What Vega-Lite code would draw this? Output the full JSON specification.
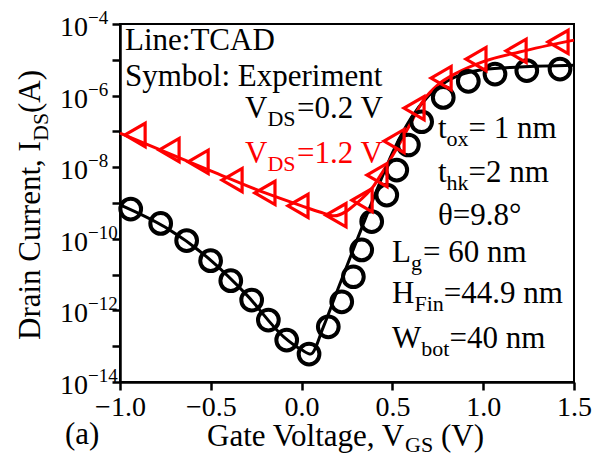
{
  "$schema": "https://vega.github.io/schema/vega-lite/v6.json",
  "width": 454,
  "height": 358,
  "autosize": "none",
  "padding": {"left": 120, "top": 24, "right": 32, "bottom": 76},
  "background": "white",
  "config": {
    "view": {"stroke": "#000000", "strokeWidth": 2},
    "font": "Liberation Serif",
    "text": {"font": "Liberation Serif"},
    "axis": {
      "domainColor": "#000000", "domainWidth": 2.5,
      "tickColor": "#000000", "tickWidth": 2.5, "tickSize": 8,
      "labelColor": "#000000", "labelFont": "Liberation Serif", "labelFontSize": 28,
      "labelFlush": false, "labelOverlap": false, "labelBound": false,
      "grid": false, "title": null
    }
  },
  "datasets": {
    "tcad": [
      {"series": "0.2 V", "v": -1.0, "I": 8.91e-10},
      {"series": "0.2 V", "v": -0.75, "I": 2.09e-10},
      {"series": "0.2 V", "v": -0.5, "I": 2.51e-11},
      {"series": "0.2 V", "v": -0.3, "I": 2.63e-12},
      {"series": "0.2 V", "v": -0.1, "I": 1.86e-13},
      {"series": "0.2 V", "v": 0.0, "I": 7.94e-14},
      {"series": "0.2 V", "v": 0.05, "I": 6.03e-14},
      {"series": "0.2 V", "v": 0.12, "I": 3.47e-13},
      {"series": "0.2 V", "v": 0.2, "I": 3.98e-12},
      {"series": "0.2 V", "v": 0.3, "I": 7.94e-11},
      {"series": "0.2 V", "v": 0.414, "I": 2.29e-9},
      {"series": "0.2 V", "v": 0.5, "I": 2.51e-8},
      {"series": "0.2 V", "v": 0.6, "I": 2.24e-7},
      {"series": "0.2 V", "v": 0.7, "I": 1.0e-6},
      {"series": "0.2 V", "v": 0.8, "I": 2.51e-6},
      {"series": "0.2 V", "v": 0.9, "I": 4.17e-6},
      {"series": "0.2 V", "v": 1.0, "I": 5.37e-6},
      {"series": "0.2 V", "v": 1.2, "I": 6.31e-6},
      {"series": "0.2 V", "v": 1.5, "I": 7.08e-6},
      {"series": "1.2 V", "v": -1.0, "I": 8.91e-8},
      {"series": "1.2 V", "v": -0.5, "I": 7.94e-9},
      {"series": "1.2 V", "v": -0.2, "I": 1.91e-9},
      {"series": "1.2 V", "v": 0.0, "I": 8.32e-10},
      {"series": "1.2 V", "v": 0.1, "I": 5.62e-10},
      {"series": "1.2 V", "v": 0.18, "I": 4.37e-10},
      {"series": "1.2 V", "v": 0.25, "I": 6.03e-10},
      {"series": "1.2 V", "v": 0.3, "I": 9.55e-10},
      {"series": "1.2 V", "v": 0.393, "I": 2.82e-9},
      {"series": "1.2 V", "v": 0.45, "I": 7.94e-9},
      {"series": "1.2 V", "v": 0.542, "I": 4.79e-8},
      {"series": "1.2 V", "v": 0.6, "I": 1.66e-7},
      {"series": "1.2 V", "v": 0.668, "I": 7.08e-7},
      {"series": "1.2 V", "v": 0.75, "I": 2.0e-6},
      {"series": "1.2 V", "v": 0.85, "I": 4.17e-6},
      {"series": "1.2 V", "v": 1.0, "I": 8.91e-6},
      {"series": "1.2 V", "v": 1.2, "I": 1.66e-5},
      {"series": "1.2 V", "v": 1.5, "I": 3.55e-5}
    ],
    "exp": [
      {"series": "0.2 V", "v": -0.941, "I": 6.76e-10},
      {"series": "0.2 V", "v": -0.776, "I": 2.69e-10},
      {"series": "0.2 V", "v": -0.633, "I": 8.91e-11},
      {"series": "0.2 V", "v": -0.501, "I": 2.45e-11},
      {"series": "0.2 V", "v": -0.39, "I": 6.76e-12},
      {"series": "0.2 V", "v": -0.275, "I": 1.95e-12},
      {"series": "0.2 V", "v": -0.183, "I": 5.37e-13},
      {"series": "0.2 V", "v": -0.082, "I": 1.48e-13},
      {"series": "0.2 V", "v": 0.041, "I": 6.03e-14},
      {"series": "0.2 V", "v": 0.147, "I": 3.47e-13},
      {"series": "0.2 V", "v": 0.221, "I": 1.74e-12},
      {"series": "0.2 V", "v": 0.285, "I": 8.71e-12},
      {"series": "0.2 V", "v": 0.331, "I": 4.9e-11},
      {"series": "0.2 V", "v": 0.386, "I": 3.02e-10},
      {"series": "0.2 V", "v": 0.469, "I": 1.66e-9},
      {"series": "0.2 V", "v": 0.524, "I": 8.32e-9},
      {"series": "0.2 V", "v": 0.588, "I": 4.17e-8},
      {"series": "0.2 V", "v": 0.661, "I": 1.86e-7},
      {"series": "0.2 V", "v": 0.78, "I": 8.91e-7},
      {"series": "0.2 V", "v": 0.918, "I": 2.51e-6},
      {"series": "0.2 V", "v": 1.065, "I": 3.98e-6},
      {"series": "0.2 V", "v": 1.24, "I": 5.01e-6},
      {"series": "0.2 V", "v": 1.423, "I": 5.5e-6},
      {"series": "1.2 V", "v": -0.917, "I": 7.94e-8},
      {"series": "1.2 V", "v": -0.73, "I": 3.02e-8},
      {"series": "1.2 V", "v": -0.57, "I": 1.41e-8},
      {"series": "1.2 V", "v": -0.383, "I": 4.37e-9},
      {"series": "1.2 V", "v": -0.202, "I": 1.91e-9},
      {"series": "1.2 V", "v": -0.02, "I": 8.32e-10},
      {"series": "1.2 V", "v": 0.189, "I": 4.57e-10},
      {"series": "1.2 V", "v": 0.333, "I": 1.2e-9},
      {"series": "1.2 V", "v": 0.415, "I": 6.03e-9},
      {"series": "1.2 V", "v": 0.509, "I": 5.37e-8},
      {"series": "1.2 V", "v": 0.619, "I": 4.47e-7},
      {"series": "1.2 V", "v": 0.768, "I": 3.09e-6},
      {"series": "1.2 V", "v": 0.96, "I": 1.05e-5},
      {"series": "1.2 V", "v": 1.181, "I": 1.78e-5},
      {"series": "1.2 V", "v": 1.412, "I": 3.16e-5}
    ],
    "notes": [
      {"series": "note", "v": -0.9725, "I": 1.879e-5, "t": "Line:TCAD"},
      {"series": "note", "v": -0.9725, "I": 1.854e-6, "t": "Symbol: Experiment"},
      {"series": "0.2 V", "v": -0.3117, "I": 2.366e-7, "t": "V"},
      {"series": "0.2 V", "v": -0.0253, "I": 2.366e-7, "t": "=0.2 V"},
      {"series": "1.2 V", "v": -0.3117, "I": 1.309e-8, "t": "V"},
      {"series": "1.2 V", "v": -0.0253, "I": 1.309e-8, "t": "=1.2 V"},
      {"series": "note", "v": 0.7511, "I": 6.546e-8, "t": "t"},
      {"series": "note", "v": 0.9196, "I": 6.546e-8, "t": "= 1 nm"},
      {"series": "note", "v": 0.7511, "I": 3.864e-9, "t": "t"},
      {"series": "note", "v": 0.9196, "I": 3.864e-9, "t": "=2 nm"},
      {"series": "note", "v": 0.7511, "I": 2.427e-10, "t": "θ=9.8°"},
      {"series": "note", "v": 0.4978, "I": 2.249e-11, "t": "L"},
      {"series": "note", "v": 0.6685, "I": 2.249e-11, "t": "= 60 nm"},
      {"series": "note", "v": 0.4978, "I": 1.611e-12, "t": "H"},
      {"series": "note", "v": 0.7825, "I": 1.611e-12, "t": "=44.9 nm"},
      {"series": "note", "v": 0.4978, "I": 8.913e-14, "t": "W"},
      {"series": "note", "v": 0.8139, "I": 8.913e-14, "t": "=40 nm"},
      {"series": "note", "v": -1.3029, "I": 1.9e-16, "t": "(a)"},
      {"series": "note", "v": -0.5209, "I": 1.63e-16, "t": "Gate Voltage, V"},
      {"series": "note", "v": 0.7676, "I": 1.63e-16, "t": "(V)"}
    ],
    "subs": [
      {"series": "0.2 V", "v": -0.1883, "I": 2.366e-7, "t": "DS"},
      {"series": "1.2 V", "v": -0.1883, "I": 1.309e-8, "t": "DS"},
      {"series": "note", "v": 0.7985, "I": 6.546e-8, "t": "ox"},
      {"series": "note", "v": 0.7985, "I": 3.864e-9, "t": "hk"},
      {"series": "note", "v": 0.6024, "I": 2.249e-11, "t": "g"},
      {"series": "note", "v": 0.6211, "I": 1.611e-12, "t": "Fin"},
      {"series": "note", "v": 0.6591, "I": 8.913e-14, "t": "bot"},
      {"series": "note", "v": 0.5694, "I": 1.9e-16, "t": "GS"}
    ],
    "ytitle": [
      {"series": "note", "v": -1.4405, "I": 1.489e-13, "t": "Drain Current, I"},
      {"series": "note", "v": -1.4405, "I": 3.266e-7, "t": "(A)"}
    ],
    "ytitlesub": [
      {"series": "note", "v": -1.4405, "I": 5.395e-8, "t": "DS"}
    ],
    "ylab": [
      {"series": "note", "v": -1.0, "I": 1e-4, "e": "−4"},
      {"series": "note", "v": -1.0, "I": 1e-6, "e": "−6"},
      {"series": "note", "v": -1.0, "I": 1e-8, "e": "−8"},
      {"series": "note", "v": -1.0, "I": 1e-10, "e": "−10"},
      {"series": "note", "v": -1.0, "I": 1e-12, "e": "−12"},
      {"series": "note", "v": -1.0, "I": 1e-14, "e": "−14"}
    ]
  },
  "encoding": {
    "x": {
      "field": "v", "type": "quantitative",
      "scale": {"domain": [-1, 1.5], "nice": false, "zero": false},
      "axis": {"values": [-1, -0.5, 0, 0.5, 1, 1.5], "format": ".1f", "labelPadding": 3, "labelFont": "Liberation Serif", "labelFontSize": 28, "labelFlush": false}
    },
    "y": {
      "field": "I", "type": "quantitative",
      "scale": {"type": "log", "domain": [1e-14, 1e-4], "nice": false},
      "axis": {
        "values": [1e-14, 1e-13, 1e-12, 1e-11, 1e-10, 1e-9, 1e-8, 1e-7, 1e-6, 1e-5, 1e-4],
        "labels": false
      }
    },
    "color": {
      "field": "series", "type": "nominal",
      "scale": {"domain": ["0.2 V", "1.2 V", "note"], "range": ["#000000", "#ff0000", "#000000"]},
      "legend": null
    }
  },
  "layer": [
    {
      "data": {"name": "tcad"},
      "mark": {"type": "line", "strokeWidth": 3, "interpolate": "monotone"},
      "encoding": {"detail": {"field": "series"}}
    },
    {
      "data": {"name": "exp"},
      "transform": [{"filter": "datum.series == '0.2 V'"}],
      "mark": {"type": "point", "shape": "circle", "filled": false, "size": 430, "strokeWidth": 4, "opacity": 1}
    },
    {
      "data": {"name": "exp"},
      "transform": [{"filter": "datum.series == '1.2 V'"}],
      "mark": {"type": "point", "shape": "triangle-left", "filled": false, "size": 540, "strokeWidth": 3.2, "opacity": 1}
    },
    {
      "data": {"name": "ylab"},
      "mark": {"type": "text", "font": "Liberation Serif", "fontSize": 28, "align": "right", "baseline": "middle", "dx": -32, "dy": 4},
      "encoding": {"text": {"value": "10"}}
    },
    {
      "data": {"name": "ylab"},
      "mark": {"type": "text", "font": "Liberation Serif", "fontSize": 19, "align": "left", "baseline": "middle", "dx": -32, "dy": -6},
      "encoding": {"text": {"field": "e"}}
    },
    {
      "data": {"name": "notes"},
      "mark": {"type": "text", "font": "Liberation Serif", "fontSize": 31, "align": "left", "baseline": "alphabetic"},
      "encoding": {"text": {"field": "t"}}
    },
    {
      "data": {"name": "subs"},
      "mark": {"type": "text", "font": "Liberation Serif", "fontSize": 22, "align": "left", "baseline": "alphabetic", "dy": 8},
      "encoding": {"text": {"field": "t"}}
    },
    {
      "data": {"name": "ytitle"},
      "mark": {"type": "text", "font": "Liberation Serif", "fontSize": 31, "align": "left", "baseline": "alphabetic", "angle": 270},
      "encoding": {"text": {"field": "t"}}
    },
    {
      "data": {"name": "ytitlesub"},
      "mark": {"type": "text", "font": "Liberation Serif", "fontSize": 22, "align": "left", "baseline": "alphabetic", "angle": 270, "dy": 8},
      "encoding": {"text": {"field": "t"}}
    }
  ]
}
